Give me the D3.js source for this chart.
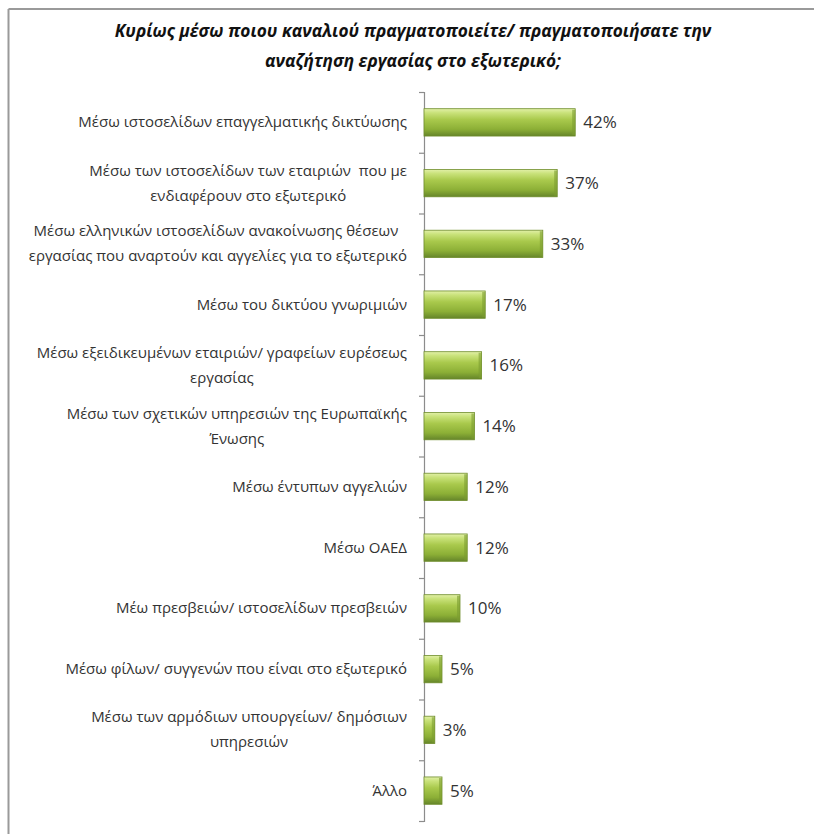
<!DOCTYPE html>
<html><head><meta charset="utf-8">
<script src="https://cdn.jsdelivr.net/npm/d3@7"></script>
<style>
html,body{margin:0;padding:0;background:#fff;overflow:hidden;}
svg{display:block;}
</style></head>
<body>
<svg id="chart" width="814" height="834"></svg>
<script>
const titleLines = ["Κυρίως μέσω ποιου καναλιού πραγματοποιείτε/ πραγματοποιήσατε την", "αναζήτηση εργασίας στο εξωτερικό;"];
const categories = [
  ["Μέσω ιστοσελίδων επαγγελματικής δικτύωσης"],
  ["Μέσω των ιστοσελίδων των εταιριών  που με", "ενδιαφέρουν στο εξωτερικό"],
  ["Μέσω ελληνικών ιστοσελίδων ανακοίνωσης θέσεων ", "εργασίας που αναρτούν και αγγελίες για το εξωτερικό"],
  ["Μέσω του δικτύου γνωριμιών"],
  ["Μέσω εξειδικευμένων εταιριών/ γραφείων ευρέσεως", "εργασίας"],
  ["Μέσω των σχετικών υπηρεσιών της Ευρωπαϊκής", "Ένωσης"],
  ["Μέσω έντυπων αγγελιών"],
  ["Μέσω ΟΑΕΔ"],
  ["Μέω πρεσβειών/ ιστοσελίδων πρεσβειών"],
  ["Μέσω φίλων/ συγγενών που είναι στο εξωτερικό"],
  ["Μέσω των αρμόδιων υπουργείων/ δημόσιων", "υπηρεσιών"],
  ["Άλλο"]
];
const values = [42, 37, 33, 17, 16, 14, 12, 12, 10, 5, 3, 5];
const valueLabels = ["42%", "37%", "33%", "17%", "16%", "14%", "12%", "12%", "10%", "5%", "3%", "5%"];

const svg = d3.select("#chart");
const W = 814, H = 834;

// frame (top and left edges visible)
svg.append("line").attr("x1", 8.5).attr("x2", W).attr("y1", 9).attr("y2", 9)
  .attr("stroke", "#9a9a9a").attr("stroke-width", 2);
svg.append("line").attr("x1", 8.5).attr("x2", 8.5).attr("y1", 9).attr("y2", H)
  .attr("stroke", "#9a9a9a").attr("stroke-width", 2);

const defs = svg.append("defs");
const g = defs.append("linearGradient").attr("id", "barGrad").attr("x1", 0).attr("y1", 0).attr("x2", 0).attr("y2", 1);
[["0%", "#e2f0a8"], ["15%", "#c9e27a"], ["40%", "#a9c94c"], ["75%", "#8caf36"], ["100%", "#65852a"]]
  .forEach(([o, c]) => g.append("stop").attr("offset", o).attr("stop-color", c));

const x0 = 424, yTop = 92, yBot = 821;
const x = d3.scaleLinear().domain([0, 50]).range([x0, x0 + 180]);
const idx = d3.range(categories.length);
const y = d3.scaleBand().domain(idx).range([yTop, yBot]).paddingInner(0.55).paddingOuter(0.275);
const yTick = d3.scaleLinear().domain([0, categories.length]).range([yTop, yBot]);

// title
const titleFont = "'Open Sans', 'DejaVu Sans', sans-serif";
const tt = svg.append("g");
titleLines.forEach((t, i) => {
  tt.append("text").attr("x", 413).attr("y", 37 + i * 30).attr("text-anchor", "middle")
    .attr("font-family", titleFont).attr("font-weight", "bold").attr("font-style", "italic")
    .attr("font-size", 17.3).attr("fill", "#111").text(t);
});

// axis
const ax = svg.append("g").attr("transform", `translate(${x0},0)`)
  .call(d3.axisLeft(yTick).tickValues(d3.range(categories.length + 1)).tickSize(5).tickFormat(""));
ax.selectAll("path,line").attr("stroke", "#8c8c8c").attr("stroke-width", 1.2);

// bars
svg.append("g").selectAll("rect").data(idx).join("rect")
  .attr("x", x(0)).attr("y", i => y(i)).attr("width", i => x(values[i]) - x(0))
  .attr("height", y.bandwidth()).attr("fill", "url(#barGrad)")
  .attr("stroke", "#6f8d2c").attr("stroke-width", 0.8);

// bar right bevel
svg.append("g").selectAll("rect").data(idx).join("rect")
  .attr("x", i => x(values[i]) - 3).attr("y", i => y(i) + 1).attr("width", 3)
  .attr("height", y.bandwidth() - 2).attr("fill", "#7c9c30").attr("opacity", 0.6);

const labFont = "'Open Sans', 'Noto Sans', sans-serif";
// value labels
svg.append("g").selectAll("text").data(idx).join("text")
  .attr("x", i => x(values[i]) + 8).attr("y", i => y(i) + y.bandwidth() / 2 + 6)
  .attr("font-family", labFont).attr("font-size", 17).attr("fill", "#333")
  .text(i => valueLabels[i]);

// category labels: block right-aligned, lines centred within block
const labG = svg.append("g");
const labelRight = 407, lineH = 25, fs = 15;
idx.forEach(i => {
  const lines = categories[i];
  const cy = y(i) + y.bandwidth() / 2;
  const texts = lines.map((t, k) => labG.append("text")
    .attr("font-family", labFont).attr("font-size", fs).attr("fill", "#333")
    .attr("y", cy + (k - (lines.length - 1) / 2) * lineH + 5).attr("xml:space", "preserve").text(t));
  const widths = texts.map(t => t.node().getComputedTextLength());
  const maxW = d3.max(widths);
  texts.forEach(t => t.attr("text-anchor", "middle").attr("x", labelRight - maxW / 2));
});
</script>
</body></html>
